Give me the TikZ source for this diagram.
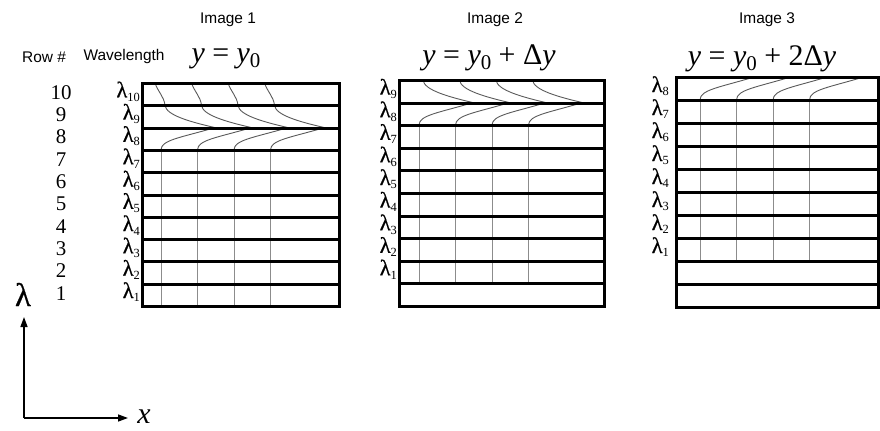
\documentclass[tikz,border=0pt]{standalone}
\usepackage{fontspec}
\setmainfont{Liberation Serif}
\newfontfamily\headfont{Liberation Sans}
\newfontfamily\lamfont[FakeBold=0.6]{Liberation Serif}
\usetikzlibrary{arrows.meta}

\newcommand{\fs}[1]{\fontsize{#1}{#1}\selectfont}
% lambda with a lowered index
\newcommand{\lam}[1]{{\lamfont λ}\raisebox{-4pt}{\fs{12.5}#1}}
\newcommand{\low}[1]{\raisebox{-6pt}{\fs{21}#1}}

\begin{document}
\begin{tikzpicture}[x=1bp, y=-1bp,
    frame/.style={line width=3bp},
    rowline/.style={line width=2.7bp},
    trace/.style={line width=0.9bp, draw=black!65},
    slit/.style={line width=0.9bp, draw=black!45},
    head/.style={font=\headfont\fs{15.5}},
    rownum/.style={font=\fs{21}, anchor=base, inner sep=0pt},
    wave/.style={font=\fs{22.5}, anchor=base east, inner sep=0pt},
    eqn/.style={font=\fs{30}, anchor=base, inner sep=0pt},
    axis/.style={line width=1.4bp, -{Triangle[length=10bp, width=7bp]}}
  ]
  \useasboundingbox (0,0) rectangle (880,430);

  % the three images: index/left/right/top/bottom/first slit
  \foreach \n/\l/\r/\t/\b/\s in {0/142/339/83/306/161, 1/399/604/80/306/419, 2/676/878/77/307/700} {
    \pgfmathsetmacro\h{(\b-\t)/10}
    \begin{scope}
      \clip (\l,\t) rectangle (\r,\b);
      \foreach \k in {0,...,3} {
        \pgfmathsetmacro\xs{\s+36.5*\k}
        \pgfmathsetmacro\ya{\b-\n*\h}
        \pgfmathsetmacro\yk{\b-(7+\n)*\h}
        \draw[slit] (\xs,\ya) -- (\xs,\yk);
        \begin{scope}[shift={(\xs,\yk)}]
          \draw[trace] (0,0) .. controls (0,-0.45*\h) and (20,-0.55*\h) .. (54,-\h)
            .. controls (30,-1.25*\h) and (5,-1.55*\h) .. (4,-2*\h)
            .. controls (3,-2.4*\h) and (-3,-2.6*\h) .. (-6,-3*\h);
        \end{scope}
      }
    \end{scope}
    \foreach \i in {1,...,9} {
      \pgfmathsetmacro\yl{round(\b-\i*\h)+0.5}
      \draw[rowline] (\l,\yl) -- (\r,\yl);
    }
    \draw[frame] (\l+0.5,\t+0.5) rectangle (\r+0.5,\b+0.5);
  }

  % headings
  \node[head] (img1) at (228,20) {Image 1};
  \node[head] (img2) at (495,20) {Image 2};
  \node[head] (img3) at (767,20) {Image 3};
  \node[head] (rowhead) at (44,57) {Row \#};
  \node[head] (wavehead) at (124,57) {Wavelength};

  \node[eqn] (eq1) at (226,62) {\textit{y} = \textit{y}\low{0}};
  \node[eqn] (eq2) at (489,64) {\textit{y} = \textit{y}\low{0} + Δ\textit{y}};
  \node[eqn] (eq3) at (762,65) {\textit{y} = \textit{y}\low{0} + 2Δ\textit{y}};

  % row numbers and wavelengths
  \foreach \r in {1,...,10} {
    \pgfmathsetmacro\yb{306-(\r-1)*22.3}
    \node[rownum] (num\r) at (61,\yb-6) {\r};
    \node[wave] (wa\r) at (140,\yb-8) {\lam{\r}};
  }
  \foreach \r in {1,...,9} {
    \pgfmathsetmacro\yb{306-\r*22.6}
    \node[wave] (wb\r) at (397,\yb-8) {\lam{\r}};
  }
  \foreach \r in {1,...,8} {
    \pgfmathsetmacro\yb{307-(\r+1)*23}
    \node[wave] (wc\r) at (669,\yb-8) {\lam{\r}};
  }

  % axes
  \coordinate (origin) at (24,418);
  \coordinate (ytip) at (24,317);
  \coordinate (xtip) at (128,418);
  \draw[axis] (origin) -- (ytip);
  \draw[axis] (origin) -- (xtip);
  \node[font=\lamfont\fs{33}, anchor=base, inner sep=0pt] (lamaxis) at (23,306) {λ};
  \node[font=\fs{30}\itshape, anchor=base, inner sep=0pt] (xaxis) at (144,423) {x};
\end{tikzpicture}
\end{document}
